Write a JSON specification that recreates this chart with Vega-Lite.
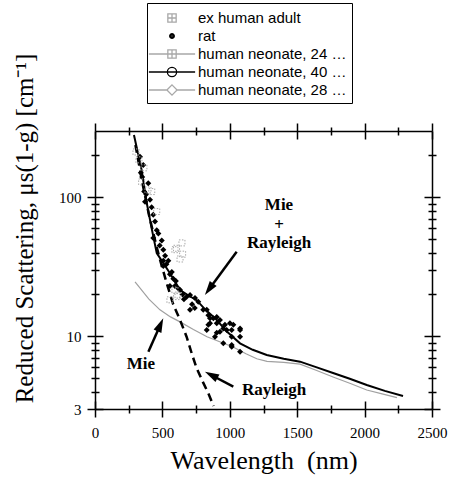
{
  "$schema": "https://vega.github.io/schema/vega-lite/v6.json",
  "width": 337,
  "height": 278,
  "autosize": {"type": "none"},
  "padding": {"left": 95, "top": 131, "right": 19, "bottom": 77},
  "background": "white",
  "config": {
    "view": {"stroke": null},
    "axis": {
      "grid": false,
      "labelFont": "Liberation Serif",
      "labelFontSize": 15,
      "labelColor": "black",
      "labelFlush": false,
      "labelOverlap": false,
      "tickColor": "black",
      "domainColor": "black",
      "domainWidth": 1.5,
      "tickWidth": 1.5,
      "titleFont": "Liberation Serif",
      "titleFontWeight": "normal",
      "titleColor": "black"
    }
  },
  "resolve": {"axis": {"x": "independent", "y": "independent"}},
  "layer": [
    {
      "data": {"values": [
        {"w": 297, "v": 24.6}, {"w": 400, "v": 18.5}, {"w": 482, "v": 15.5}, {"w": 560, "v": 13.8},
        {"w": 631, "v": 12.7}, {"w": 730, "v": 11.2}, {"w": 831, "v": 9.93}, {"w": 930, "v": 9.1},
        {"w": 1024, "v": 8.38}, {"w": 1120, "v": 7.5}, {"w": 1200, "v": 6.9}, {"w": 1276, "v": 6.6},
        {"w": 1400, "v": 6.5}, {"w": 1521, "v": 6.3}, {"w": 1640, "v": 5.7}, {"w": 1766, "v": 5.1},
        {"w": 1890, "v": 4.6}, {"w": 2016, "v": 4.11}, {"w": 2130, "v": 3.85}, {"w": 2240, "v": 3.62}
      ]},
      "mark": {"type": "line", "color": "#a0a0a0", "strokeWidth": 1.2, "clip": true},
      "encoding": {
        "x": {"field": "w", "type": "quantitative", "scale": {"domain": [0, 2500], "nice": false, "zero": false},
          "axis": {"orient": "bottom", "values": [0, 500, 1000, 1500, 2000, 2500], "tickSize": 8, "labelPadding": 8, "format": "d",
            "title": "Wavelength\u00a0 (nm)", "titleFontSize": 26, "titleY": 51, "titleBaseline": "middle", "domain": true}},
        "y": {"field": "v", "type": "quantitative", "scale": {"type": "log", "domain": [3, 300], "nice": false},
          "axis": {"orient": "left", "values": [3, 10, 100], "tickSize": 8, "labelPadding": 6, "format": "d",
            "title": "Reduced Scattering, μs(1-g) [cm⁻¹]", "titleFontSize": 25, "titleX": -71, "titleY": 97,
            "titleAngle": 270, "titleAlign": "center", "titleBaseline": "middle", "domain": true}}
      }
    },
    {
      "data": {"values": [
        {"w": 300, "v": 238}, {"w": 350, "v": 129}, {"w": 400, "v": 75}, {"w": 450, "v": 47}, {"w": 481, "v": 36},
        {"w": 532, "v": 24.1}, {"w": 580, "v": 17}, {"w": 631, "v": 13.1}, {"w": 680, "v": 9.9}, {"w": 720, "v": 7.4},
        {"w": 754, "v": 5.9}, {"w": 800, "v": 4.7}, {"w": 840, "v": 3.9}, {"w": 880, "v": 3.15}
      ]},
      "mark": {"type": "line", "color": "black", "strokeWidth": 2.5, "strokeDash": [8, 5], "clip": true},
      "encoding": {
        "x": {"field": "w", "type": "quantitative", "scale": {"domain": [0, 2500], "nice": false, "zero": false},
          "axis": {"orient": "bottom", "values": [0, 500, 1000, 1500, 2000, 2500], "tickSize": -8, "labels": false, "domain": false, "title": null}},
        "y": {"field": "v", "type": "quantitative", "scale": {"type": "log", "domain": [3, 300], "nice": false},
          "axis": {"orient": "left", "values": [3, 10, 100], "tickSize": -8, "labels": false, "domain": false, "title": null}}
      }
    },
    {
      "data": {"values": [
        {"w": 289, "v": 281}, {"w": 346, "v": 157}, {"w": 384, "v": 91}, {"w": 420, "v": 60}, {"w": 458, "v": 39.7},
        {"w": 556, "v": 28.4}, {"w": 631, "v": 21.5}, {"w": 700, "v": 19.5}, {"w": 754, "v": 18.2}, {"w": 820, "v": 15.5},
        {"w": 890, "v": 13.5}, {"w": 980, "v": 10.8}, {"w": 1076, "v": 8.9}, {"w": 1170, "v": 8.0}, {"w": 1274, "v": 7.34},
        {"w": 1400, "v": 6.9}, {"w": 1521, "v": 6.57}, {"w": 1640, "v": 6.0}, {"w": 1766, "v": 5.45}, {"w": 1890, "v": 4.95},
        {"w": 2016, "v": 4.46}, {"w": 2150, "v": 4.05}, {"w": 2285, "v": 3.72}
      ]},
      "mark": {"type": "line", "color": "black", "strokeWidth": 2, "clip": true},
      "encoding": {
        "x": {"field": "w", "type": "quantitative", "scale": {"domain": [0, 2500], "nice": false, "zero": false},
          "axis": {"orient": "bottom", "values": [250, 750, 1250, 1750, 2250], "tickSize": 4, "labels": false, "domain": false, "title": null}},
        "y": {"field": "v", "type": "quantitative", "scale": {"type": "log", "domain": [3, 300], "nice": false},
          "axis": {"orient": "left", "values": [4, 5, 6, 7, 8, 9, 20, 30, 40, 50, 60, 70, 80, 90, 200], "tickSize": 4, "labels": false, "domain": false, "title": null}}
      }
    },
    {
      "data": {"values": [
        {"w": 334, "v": 196}, {"w": 358, "v": 171}, {"w": 340, "v": 150}, {"w": 350, "v": 140}, {"w": 395, "v": 126},
        {"w": 365, "v": 110}, {"w": 380, "v": 105}, {"w": 371, "v": 93}, {"w": 408, "v": 96}, {"w": 420, "v": 85},
        {"w": 432, "v": 75}, {"w": 445, "v": 67}, {"w": 458, "v": 58}, {"w": 470, "v": 55}, {"w": 432, "v": 51},
        {"w": 480, "v": 45}, {"w": 495, "v": 49}, {"w": 507, "v": 42}, {"w": 520, "v": 38}, {"w": 507, "v": 35},
        {"w": 530, "v": 33}, {"w": 507, "v": 32}, {"w": 544, "v": 35}, {"w": 556, "v": 28}, {"w": 570, "v": 29},
        {"w": 581, "v": 26}, {"w": 600, "v": 25}, {"w": 593, "v": 23}, {"w": 556, "v": 23}, {"w": 620, "v": 22},
        {"w": 631, "v": 21.5}, {"w": 650, "v": 20}, {"w": 660, "v": 18.5}, {"w": 680, "v": 19.3}, {"w": 705, "v": 19.8},
        {"w": 705, "v": 15.5}, {"w": 720, "v": 17}, {"w": 742, "v": 18.9}, {"w": 740, "v": 16}, {"w": 766, "v": 17.7},
        {"w": 803, "v": 15.5}, {"w": 829, "v": 15.5}, {"w": 841, "v": 14.2}, {"w": 853, "v": 13.5}, {"w": 878, "v": 13.5},
        {"w": 903, "v": 13.8}, {"w": 903, "v": 12.4}, {"w": 927, "v": 13.1}, {"w": 841, "v": 12.1}, {"w": 853, "v": 12.4},
        {"w": 952, "v": 11.4}, {"w": 964, "v": 12.1}, {"w": 977, "v": 11.1}, {"w": 1001, "v": 12.4}, {"w": 1026, "v": 12.1},
        {"w": 1014, "v": 11.1}, {"w": 1076, "v": 11.4}, {"w": 1076, "v": 11.1}, {"w": 927, "v": 10.8}, {"w": 903, "v": 10.6},
        {"w": 829, "v": 11.1}, {"w": 1014, "v": 9.93}, {"w": 1076, "v": 9.93}, {"w": 890, "v": 9.93}, {"w": 952, "v": 8.91},
        {"w": 1014, "v": 8.42}, {"w": 1014, "v": 8.66}, {"w": 1076, "v": 7.75}
      ]},
      "mark": {"type": "point", "shape": "diamond", "filled": true, "color": "black", "size": 36, "opacity": 1},
      "encoding": {
        "x": {"field": "w", "type": "quantitative", "scale": {"domain": [0, 2500], "nice": false, "zero": false},
          "axis": {"orient": "bottom", "values": [250, 750, 1250, 1750, 2250], "tickSize": -4, "labels": false, "domain": false, "title": null}},
        "y": {"field": "v", "type": "quantitative", "scale": {"type": "log", "domain": [3, 300], "nice": false},
          "axis": {"orient": "left", "values": [4, 5, 6, 7, 8, 9, 20, 30, 40, 50, 60, 70, 80, 90, 200], "tickSize": -4, "labels": false, "domain": false, "title": null}}
      }
    },
    {
      "data": {"values": [
        {"w": 304, "v": 212}, {"w": 326, "v": 186}, {"w": 346, "v": 129}, {"w": 363, "v": 163}, {"w": 393, "v": 113},
        {"w": 421, "v": 110}, {"w": 458, "v": 79}, {"w": 593, "v": 42}, {"w": 605, "v": 43}, {"w": 631, "v": 36},
        {"w": 645, "v": 47}, {"w": 650, "v": 39}, {"w": 605, "v": 19.3}, {"w": 616, "v": 19.8}, {"w": 593, "v": 21.5},
        {"w": 556, "v": 18.3}
      ]},
      "mark": {"type": "point", "shape": "square", "filled": false, "color": "#a8a8a8", "strokeWidth": 1, "strokeDash": [1.5, 1.5], "size": 36, "opacity": 1},
      "encoding": {
        "x": {"field": "w", "type": "quantitative", "scale": {"domain": [0, 2500], "nice": false, "zero": false},
          "axis": {"orient": "top", "values": [0, 500, 1000, 1500, 2000, 2500], "tickSize": 8, "labels": false, "domain": true, "title": null}},
        "y": {"field": "v", "type": "quantitative", "scale": {"type": "log", "domain": [3, 300], "nice": false},
          "axis": {"orient": "right", "values": [3, 10, 100], "tickSize": 8, "labels": false, "domain": true, "title": null}}
      }
    },
    {
      "data": {"values": [
        {"w": 1051, "v": 40.6, "w2": 846, "v2": 21.8},
        {"w": 396, "v": 7.75, "w2": 485, "v2": 12.1},
        {"w": 1026, "v": 4.34, "w2": 862, "v2": 5.27}
      ]},
      "mark": {"type": "rule", "color": "black", "strokeWidth": 2.5},
      "encoding": {
        "x": {"field": "w", "type": "quantitative", "scale": {"domain": [0, 2500], "nice": false, "zero": false},
          "axis": {"orient": "top", "values": [0, 500, 1000, 1500, 2000, 2500], "tickSize": -8, "labels": false, "domain": false, "title": null}},
        "y": {"field": "v", "type": "quantitative", "scale": {"type": "log", "domain": [3, 300], "nice": false},
          "axis": {"orient": "right", "values": [3, 10, 100], "tickSize": -8, "labels": false, "domain": false, "title": null}},
        "x2": {"field": "w2"},
        "y2": {"field": "v2"}
      }
    },
    {
      "data": {"values": [
        {"w": 846, "v": 21.8, "dir": 216},
        {"w": 485, "v": 12.1, "dir": 24},
        {"w": 862, "v": 5.27, "dir": 298}
      ]},
      "mark": {"type": "point", "shape": "M0,-1L0.6,1L-0.6,1Z", "filled": true, "color": "black", "size": 200, "opacity": 1},
      "encoding": {
        "x": {"field": "w", "type": "quantitative", "scale": {"domain": [0, 2500], "nice": false, "zero": false},
          "axis": {"orient": "top", "values": [250, 750, 1250, 1750, 2250], "tickSize": 4, "labels": false, "domain": false, "title": null}},
        "y": {"field": "v", "type": "quantitative", "scale": {"type": "log", "domain": [3, 300], "nice": false},
          "axis": {"orient": "right", "values": [4, 5, 6, 7, 8, 9, 20, 30, 40, 50, 60, 70, 80, 90, 200], "tickSize": 4, "labels": false, "domain": false, "title": null}},
        "angle": {"field": "dir", "type": "quantitative", "scale": null}
      }
    },
    {
      "data": {"values": [
        {"w": 1365, "v": 88, "label": "Mie"},
        {"w": 1365, "v": 63, "label": "+"},
        {"w": 1365, "v": 47, "label": "Rayleigh"},
        {"w": 341, "v": 6.3, "label": "Mie"},
        {"w": 1328, "v": 4.1, "label": "Rayleigh"}
      ]},
      "mark": {"type": "text", "font": "Liberation Serif", "fontWeight": "bold", "fontSize": 17, "align": "center", "baseline": "middle", "color": "black"},
      "encoding": {
        "x": {"field": "w", "type": "quantitative", "scale": {"domain": [0, 2500], "nice": false, "zero": false},
          "axis": {"orient": "top", "values": [250, 750, 1250, 1750, 2250], "tickSize": -4, "labels": false, "domain": false, "title": null}},
        "y": {"field": "v", "type": "quantitative", "scale": {"type": "log", "domain": [3, 300], "nice": false},
          "axis": {"orient": "right", "values": [4, 5, 6, 7, 8, 9, 20, 30, 40, 50, 60, 70, 80, 90, 200], "tickSize": -4, "labels": false, "domain": false, "title": null}},
        "text": {"field": "label", "type": "nominal"}
      }
    },
    {
      "data": {"values": [
        {"series": "ex human adult"},
        {"series": "rat"},
        {"series": "human neonate, 24 week"},
        {"series": "human neonate, 40 week"},
        {"series": "human neonate, 28 week"}
      ]},
      "mark": {"type": "point", "opacity": 0},
      "encoding": {
        "color": {"field": "series", "type": "nominal",
          "scale": {"domain": ["ex human adult", "rat", "human neonate, 24 week", "human neonate, 40 week", "human neonate, 28 week"],
            "range": ["#a8a8a8", "black", "#a8a8a8", "black", "#a8a8a8"]},
          "legend": {
            "title": null, "orient": "none", "legendX": 52, "legendY": -128,
            "padding": 5, "strokeColor": "black", "fillColor": "white",
            "symbolSize": 342, "symbolStrokeWidth": 1.3, "symbolOffset": 10, "symbolOpacity": 1,
            "labelFont": "Liberation Sans", "labelFontSize": 15, "labelOffset": 16, "labelLimit": 150, "rowPadding": 0,
            "encode": {
              "labels": {"update": {"fill": {"signal": "datum.value === 'rat' || datum.value === 'human neonate, 40 week' ? 'black' : '#b8b8b8'"}}},
              "symbols": {"update": {"opacity": {"value": 1}, "fill": [{"test": "datum.value === 'rat'", "value": "black"}, {"value": "transparent"}]}}
            }
          }},
        "shape": {"field": "series", "type": "nominal",
          "scale": {"domain": ["ex human adult", "rat", "human neonate, 24 week", "human neonate, 40 week", "human neonate, 28 week"],
            "range": [
              "M-0.45,-0.45H0.45V0.45H-0.45Z M0,-0.45V0.45 M-0.45,0H0.45",
              "M-0.25,0A0.25,0.25 0 1,1 0.25,0A0.25,0.25 0 1,1 -0.25,0Z M-0.12,0A0.12,0.12 0 1,1 0.12,0A0.12,0.12 0 1,1 -0.12,0Z",
              "M-2.5,0H-0.45 M0.45,0H2.5 M-0.45,-0.45H0.45V0.45H-0.45Z M0,-0.45V0.45 M-0.45,0H0.45",
              "M-2.5,0H-0.5 M0.5,0H2.5 M-0.5,0A0.5,0.5 0 1,1 0.5,0A0.5,0.5 0 1,1 -0.5,0Z M-0.5,0H0.5",
              "M-2.5,0H-0.55 M0.55,0H2.5 M0,-0.55L0.55,0L0,0.55L-0.55,0Z"
            ]}}
      }
    }
  ]
}
